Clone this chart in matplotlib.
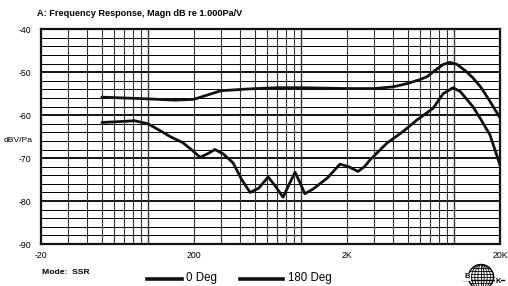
import numpy as np
import matplotlib.pyplot as plt
from matplotlib.patches import Circle

# values
freq_0 = [50, 100, 150, 200, 250, 300, 450, 700, 1000, 2000, 3000, 4000, 5000,
          6000, 6700, 7500, 8500, 9400, 10500, 12000, 13300, 15000, 17000, 20000]
db_0 = [-55.8, -56.2, -56.5, -56.3, -55.2, -54.3, -53.9, -53.6, -53.6, -53.8, -53.8,
        -53.4, -52.6, -51.7, -51.0, -49.6, -48.2, -47.7, -48.2, -49.8, -51.3, -53.5,
        -56.5, -60.6]

freq_180 = [50, 65, 82, 100, 120, 140, 169, 195, 219, 245, 274, 310, 360, 410, 465,
            530, 610, 680, 764, 840, 915, 980, 1060, 1200, 1480, 1800, 2050, 2360,
            2600, 2830, 3650, 4650, 5740, 7300, 8500, 9860, 11000, 13300, 15000,
            17200, 20000]
db_180 = [-61.7, -61.5, -61.3, -62.0, -63.6, -65.0, -66.4, -68.2, -69.8, -69.0, -68.0,
          -69.0, -71.1, -75.0, -78.0, -77.0, -74.4, -76.5, -79.1, -76.0, -73.3, -75.5,
          -78.3, -77.2, -74.7, -71.4, -72.0, -73.1, -72.0, -70.4, -66.5, -63.8, -61.1,
          -58.4, -55.0, -53.6, -54.5, -58.0, -61.0, -64.6, -71.6]

y_ticks = [-40, -50, -60, -70, -80, -90]
x_ticks = [20, 200, 2000, 20000]
x_labels = ['-20', '200', '2K', '20K']
series_names = ['0 Deg', '180 Deg']

plt.rcParams['font.family'] = ['Liberation Sans', 'DejaVu Sans']

W, H = 508, 286
fig = plt.figure(figsize=(W / 100, H / 100), dpi=100)
ax = fig.add_axes([41 / W, 1 - 244 / H, 459 / W, 214.7 / H])

# grid
for v in range(-90, -39, 2):
    lw = 1.3 if v % 10 == 0 else 0.7
    ax.axhline(v, color='black', lw=lw, zorder=1)
for dec in [10, 100, 1000, 10000]:
    for m in range(1, 10):
        f = dec * m
        if 20 < f < 20000:
            ax.axvline(f, color='#333333', lw=0.8 if m > 1 else 1.0, zorder=1)

ax.plot(freq_0, db_0, color='#111111', lw=2.0, solid_joinstyle='round',
        solid_capstyle='round', zorder=3)
ax.plot(freq_180, db_180, color='#111111', lw=2.0, solid_joinstyle='round',
        solid_capstyle='round', zorder=3)

ax.set_xscale('log')
ax.set_xlim(20, 20000)
ax.set_ylim(-90, -40)
ax.set_xticks(x_ticks)
ax.set_xticklabels(x_labels, fontsize=6.3)
ax.set_xticks([], minor=True)
ax.set_yticks(y_ticks)
ax.set_yticklabels([str(v) for v in y_ticks], fontsize=6.3)
ax.tick_params(length=0)
ax.tick_params(axis='y', pad=7)
ax.tick_params(axis='x', pad=5)
for s in ax.spines.values():
    s.set_linewidth(1.6)
    s.set_color('#111111')

fig.text(37 / W, 1 - 13 / H, 'A: Frequency Response, Magn dB re 1.000Pa/V',
         fontsize=6.6, fontweight='bold', va='center', ha='left')
fig.text(33 / W, 1 - 141 / H, 'dBV/Pa', fontsize=6.1, ha='right', va='center')
fig.text(42 / W, 1 - 273 / H, 'Mode:  SSR', fontsize=6.1, fontweight='bold',
         ha='left', va='center')

# legend at the bottom
leg_x = [(147, 182, 186), (240, 283, 288)]
for (x0, x1, xt), name in zip(leg_x, series_names):
    fig.add_artist(plt.Line2D([x0 / W, x1 / W], [1 - 279 / H] * 2,
                              color='#111111', lw=2.6))
    fig.text(xt / W, 1 - 278.5 / H, name, fontsize=8.3, ha='left', va='center')

# B&K logo, drawn in pixel coordinates
lax = fig.add_axes([440 / W, 0, 68 / W, 41 / H])
lax.set_xlim(440, 508)
lax.set_ylim(286, 245)
lax.axis('off')
cx, cy, r = 481, 277, 12.5
lax.add_patch(Circle((cx, cy), r, fill=False, lw=1.0, color='black'))
for k in np.linspace(-r, r, 9)[1:-1]:
    w = np.sqrt(r ** 2 - k ** 2)
    lax.plot([cx - w, cx + w], [cy + k, cy + k], color='black', lw=0.6)
t = np.linspace(-np.pi / 2, np.pi / 2, 40)
for a in [0.25, 0.5, 0.75]:
    lax.plot(cx + r * a * np.cos(t), cy + r * np.sin(t), color='black', lw=0.6)
    lax.plot(cx - r * a * np.cos(t), cy + r * np.sin(t), color='black', lw=0.6)
lax.plot([cx, cx], [cy - r, cy + r], color='black', lw=0.6)
lax.plot([464, 504], [279.5, 279.5], color='black', lw=1.0)
lax.text(467.5, 278.5, 'B', fontsize=5.5, fontweight='bold', ha='center',
         va='baseline', bbox=dict(facecolor='white', edgecolor='none', pad=0.3))
lax.text(498, 283, 'K', fontsize=5.5, fontweight='bold', ha='center',
         va='baseline', bbox=dict(facecolor='white', edgecolor='none', pad=0.3))

fig.savefig('out.png', dpi=100)
